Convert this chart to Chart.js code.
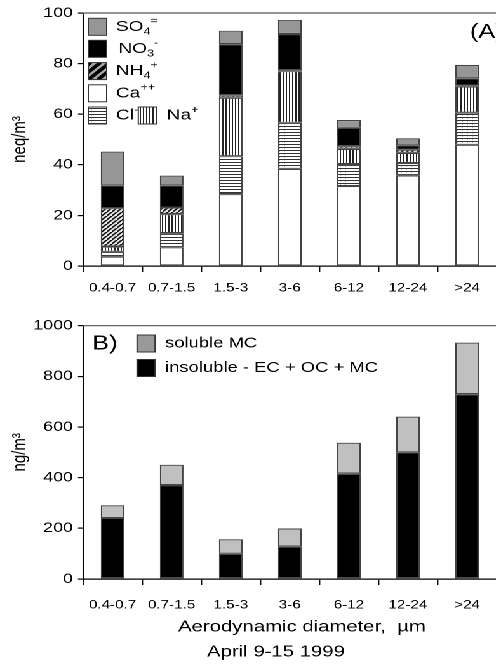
<!DOCTYPE html>
<html><head><meta charset="utf-8">
<script src="https://cdn.jsdelivr.net/npm/chart.js@4.4.1/dist/chart.umd.min.js"></script>
<style>
html,body{margin:0;padding:0;background:#fff;overflow:hidden;width:496px;height:668px;}
#wrap{position:absolute;left:0;top:0;width:391px;height:668px;transform:scaleX(1.27);transform-origin:0 0;overflow:hidden;}
canvas{display:block;}
</style></head><body>
<div id="wrap"><canvas id="cTop" width="391" height="300"></canvas><canvas id="cBot" width="391" height="368"></canvas></div>
<script>
// ---------- data ----------
const categories = ['0.4-0.7', '0.7-1.5', '1.5-3', '3-6', '6-12', '12-24', '>24'];
// panel A, neq/m3 (stack segments, bottom to top)
const caValues  = [3.7, 7.4, 28.4, 38.4, 31.6, 35.8, 47.9];
const clValues  = [1.9, 5.6, 15.0, 18.2, 8.7, 4.9, 12.7];
const naValues  = [2.1, 7.5, 23.1, 20.4, 6.0, 4.0, 10.4];
const nh4Values = [15.2, 2.6, 1.0, 0.4, 1.0, 1.3, 0.2];
const no3Values = [9.0, 8.8, 20.2, 14.3, 7.3, 1.7, 3.0];
const so4Values = [13.3, 3.8, 5.3, 5.6, 3.1, 2.8, 5.3];
const yTicksA = [0, 20, 40, 60, 80, 100];
// panel B, ng/m3
const insolubleValues = [241, 371, 100, 128, 416, 500, 730];
const solubleValues   = [50, 80, 57, 72, 122, 141, 203];
const yTicksB = [0, 200, 400, 600, 800, 1000];

// ---------- styling helpers ----------
const FONT = "'Liberation Sans', Arial, Helvetica, sans-serif";

function makePattern(w, h, draw) {
  const c = document.createElement('canvas'); c.width = w; c.height = h;
  const g = c.getContext('2d'); draw(g, w, h);
  const p = g.createPattern(c, 'repeat');
  p.setTransform(new DOMMatrix([0.5, 0, 0, 0.5, 0, 0]));
  return p;
}
const vertPattern = makePattern(5, 2, (g, w, h) => {
  g.fillStyle = '#fff'; g.fillRect(0, 0, w, h);
  g.fillStyle = '#222'; g.fillRect(0, 0, 2, h);
});
const horizPattern = makePattern(8, 6, (g, w, h) => {
  g.fillStyle = '#fff'; g.fillRect(0, 0, w, h);
  g.fillStyle = '#bbb'; g.fillRect(0, 2, 1, 2);
  g.fillStyle = '#333'; g.fillRect(0, 0, w, 2);
});
const diagPattern = makePattern(8, 8, (g, w, h) => {
  g.fillStyle = '#e8e8e8'; g.fillRect(0, 0, w, h);
  g.strokeStyle = '#111'; g.lineWidth = 2.8;
  g.beginPath();
  g.moveTo(-2, h + 2); g.lineTo(w + 2, -2);
  g.moveTo(-2 - w, h + 2); g.lineTo(2, -2);
  g.moveTo(w - 2, 2 * h); g.lineTo(2 * w + 2, h - 2);
  g.stroke();
});

function chem(ctx, x, y, parts, size) {
  let cx = x;
  ctx.textBaseline = 'middle'; ctx.textAlign = 'left'; ctx.fillStyle = '#000';
  for (const [t, k] of parts) {
    const fs = k ? Math.round(size * 0.68) : size;
    ctx.font = fs + 'px ' + FONT;
    const dy = k === 'sub' ? size * 0.32 : k === 'sup' ? -size * 0.36 : 0;
    ctx.fillText(t, cx, y + dy);
    cx += ctx.measureText(t).width;
  }
  return cx;
}
function box(ctx, x, y, w, h, fill) {
  ctx.save();
  ctx.fillStyle = fill; ctx.fillRect(x, y, w, h);
  ctx.strokeStyle = '#333'; ctx.lineWidth = 1; ctx.strokeRect(x, y, w, h);
  ctx.restore();
}
function topLine(chart) {
  const ctx = chart.ctx, a = chart.chartArea;
  ctx.save(); ctx.strokeStyle = '#555'; ctx.lineWidth = 1.2;
  ctx.beginPath(); ctx.moveTo(a.left, a.top); ctx.lineTo(chart.width + 10, a.top); ctx.stroke();
  ctx.restore();
}

const topDecor = {
  id: 'topDecor',
  afterDraw(chart) {
    const ctx = chart.ctx;
    topLine(chart);
    const bx = 69.5, bw = 14.5, bh = 17, tx = 91.3;
    const rows = [18.3, 40.3, 62.6, 84.8, 107];
    box(ctx, bx, rows[0], bw, bh, '#969696');
    chem(ctx, tx, rows[0] + bh / 2, [['SO'], ['4', 'sub'], ['=', 'sup']], 15);
    box(ctx, bx, rows[1], bw, bh, '#000');
    chem(ctx, tx + 2, rows[1] + bh / 2, [['NO'], ['3', 'sub'], ['-', 'sup']], 15);
    ctx.save();
    ctx.fillStyle = '#a8a8a8'; ctx.fillRect(bx, rows[2], bw, bh);
    ctx.beginPath(); ctx.rect(bx, rows[2], bw, bh); ctx.clip();
    ctx.strokeStyle = '#000'; ctx.lineWidth = 3.2;
    ctx.beginPath();
    for (let k = -2; k <= 3; k++) {
      const x0 = bx + k * 7.5;
      ctx.moveTo(x0, rows[2] + bh); ctx.lineTo(x0 + bh, rows[2]);
    }
    ctx.stroke();
    ctx.restore();
    ctx.save(); ctx.strokeStyle = '#333'; ctx.lineWidth = 1; ctx.strokeRect(bx, rows[2], bw, bh); ctx.restore();
    chem(ctx, tx, rows[2] + bh / 2, [['NH'], ['4', 'sub'], ['+', 'sup']], 15);
    box(ctx, bx, rows[3], bw, bh, '#fff');
    chem(ctx, tx, rows[3] + bh / 2, [['Ca'], ['++', 'sup']], 15);
    box(ctx, bx, rows[4], bw, bh, horizPattern);
    chem(ctx, tx, rows[4] + bh / 2, [['Cl'], ['-', 'sup']], 15);
    box(ctx, 108.9, rows[4], bw, bh, vertPattern);
    chem(ctx, 131.3, rows[4] + bh / 2, [['Na'], ['+', 'sup']], 15);
    ctx.save();
    ctx.font = '20px ' + FONT; ctx.fillStyle = '#000'; ctx.textBaseline = 'middle'; ctx.textAlign = 'left';
    ctx.fillText('(A)', 370, 32.5);
    ctx.restore();
  }
};

const botDecor = {
  id: 'botDecor',
  afterDraw(chart) {
    const ctx = chart.ctx;
    topLine(chart);
    box(ctx, 107.9, 35, 14.2, 17, '#999');
    box(ctx, 107.9, 59.5, 14.2, 17, '#000');
    ctx.save();
    ctx.fillStyle = '#000'; ctx.textBaseline = 'middle'; ctx.textAlign = 'left';
    ctx.font = '14.5px ' + FONT;
    ctx.fillText('soluble MC', 130, 43.5);
    ctx.fillText('insoluble - EC + OC + MC', 130, 68);
    ctx.font = '20px ' + FONT;
    ctx.fillText('B)', 72.5, 44);
    ctx.font = '16px ' + FONT;
    ctx.fillText('Aerodynamic diameter,  \u00b5m', 140.2, 327);
    ctx.fillText('April 9-15 1999', 163, 352);
    ctx.restore();
  }
};

function yAxis(max, step, title, ticksList) {
  return {
    min: 0, max: max, stacked: true,
    afterFit(s) { s.width = 65.4; },
    afterBuildTicks(s) { s.ticks = ticksList.map(v => ({ value: v })); },
    ticks: { stepSize: step, color: '#000', font: { size: 14, family: FONT }, padding: 4, callback: v => String(v) },
    grid: { drawOnChartArea: false, drawTicks: true, tickLength: 4, color: '#000', lineWidth: 1.2 },
    border: { display: true, color: '#000', width: 1.3 },
    title: { display: true, text: title, color: '#000', font: { size: 15, family: FONT }, padding: { top: 7, bottom: 0 } }
  };
}
function xAxis(h, pad) {
  return {
    stacked: true,
    afterFit(s) { s.height = h; },
    ticks: { color: '#000', font: { size: 12, family: FONT }, padding: pad, maxRotation: 0, autoSkip: false },
    grid: { offset: true, drawOnChartArea: false, drawTicks: true, tickLength: 6, color: '#000', lineWidth: 1.2 },
    border: { display: true, color: '#000', width: 1.3 }
  };
}
const barCommon = { barPercentage: 0.4, categoryPercentage: 1.0, borderWidth: 1.1, borderColor: '#444', borderSkipped: false };

new Chart(document.getElementById('cTop'), {
  type: 'bar',
  data: {
    labels: categories,
    datasets: [
      Object.assign({ label: 'Ca++', data: caValues, backgroundColor: '#fff' }, barCommon),
      Object.assign({ label: 'Cl-', data: clValues, backgroundColor: horizPattern }, barCommon),
      Object.assign({ label: 'Na+', data: naValues, backgroundColor: vertPattern }, barCommon),
      Object.assign({ label: 'NH4+', data: nh4Values, backgroundColor: diagPattern }, barCommon),
      Object.assign({ label: 'NO3-', data: no3Values, backgroundColor: '#000' }, barCommon),
      Object.assign({ label: 'SO4=', data: so4Values, backgroundColor: '#969696' }, barCommon)
    ]
  },
  options: {
    responsive: false, animation: false, devicePixelRatio: 2,
    layout: { padding: { top: 13, right: -3.4, left: 0, bottom: 0 } },
    plugins: { legend: { display: false }, tooltip: { enabled: false } },
    scales: { x: xAxis(34, 9), y: yAxis(100, 20, 'neq/m\u00b3', yTicksA) }
  },
  plugins: [topDecor]
});

new Chart(document.getElementById('cBot'), {
  type: 'bar',
  data: {
    labels: categories,
    datasets: [
      Object.assign({ label: 'insoluble - EC + OC + MC', data: insolubleValues, backgroundColor: '#000' }, barCommon),
      Object.assign({ label: 'soluble MC', data: solubleValues, backgroundColor: '#c0c0c0' }, barCommon)
    ]
  },
  options: {
    responsive: false, animation: false, devicePixelRatio: 2,
    layout: { padding: { top: 25.7, right: -3.4, left: 0, bottom: 0 } },
    plugins: { legend: { display: false }, tooltip: { enabled: false } },
    scales: { x: xAxis(89, 13), y: yAxis(1000, 200, 'ng/m\u00b3', yTicksB) }
  },
  plugins: [botDecor]
});
</script>
</body></html>
